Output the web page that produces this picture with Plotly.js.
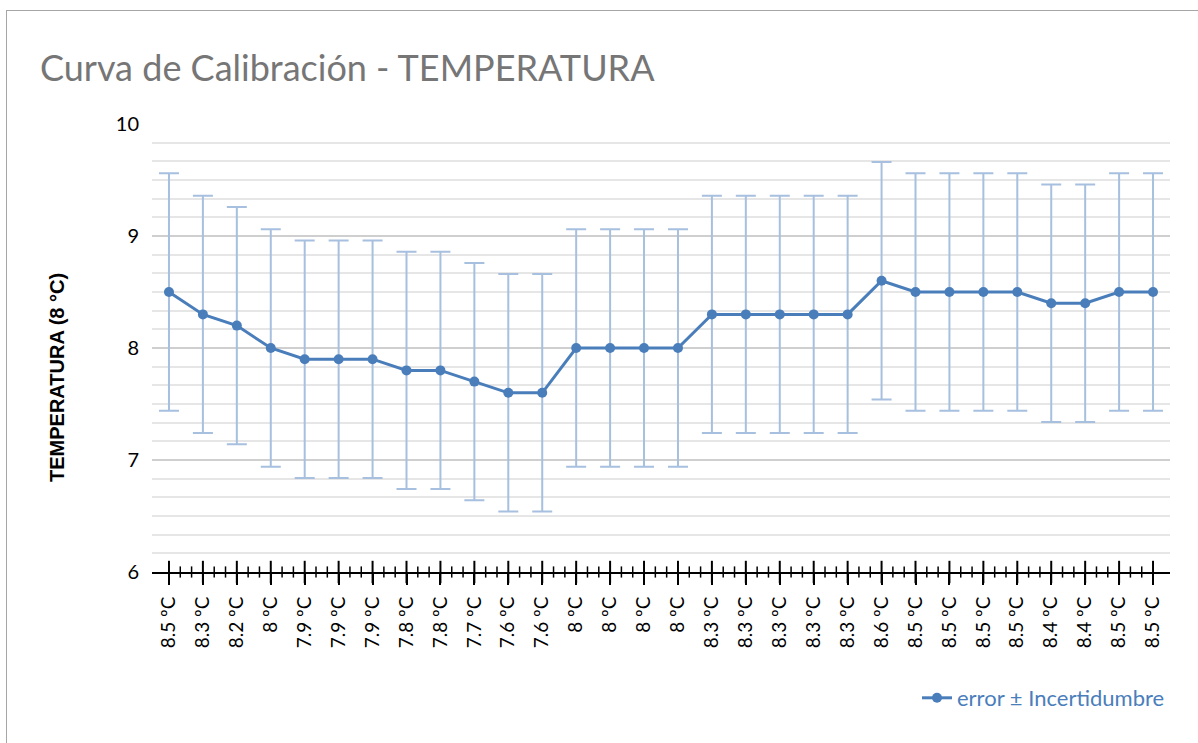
<!DOCTYPE html>
<html>
<head>
<meta charset="utf-8">
<script src="https://cdn.plot.ly/plotly-3.0.1.min.js"></script>
<style>
  html, body { margin: 0; padding: 0; background: #fff; }
  #wrap { position: relative; width: 1198px; height: 743px; overflow: hidden; }
  #chart { position: absolute; left: 0; top: 0; width: 1198px; height: 743px; }
  #frame { position: absolute; left: 6px; top: 10px; width: 1300px; height: 900px;
           border-left: 1.5px solid #a6a6a6; border-top: 1.5px solid #a6a6a6; pointer-events: none; }
</style>
</head>
<body>
<div id="wrap">
  <div id="chart"></div>
  <div id="frame"></div>
</div>
<script>
// ---- data ----
const tickLabels = ["8.5 ºC","8.3 ºC","8.2 ºC","8 ºC","7.9 ºC","7.9 ºC","7.9 ºC","7.8 ºC","7.8 ºC","7.7 ºC",
                    "7.6 ºC","7.6 ºC","8 ºC","8 ºC","8 ºC","8 ºC","8.3 ºC","8.3 ºC","8.3 ºC","8.3 ºC",
                    "8.3 ºC","8.6 ºC","8.5 ºC","8.5 ºC","8.5 ºC","8.5 ºC","8.4 ºC","8.4 ºC","8.5 ºC","8.5 ºC"];
const values = [8.5,8.3,8.2,8,7.9,7.9,7.9,7.8,7.8,7.7,
                7.6,7.6,8,8,8,8,8.3,8.3,8.3,8.3,
                8.3,8.6,8.5,8.5,8.5,8.5,8.4,8.4,8.5,8.5];
const uncertainty = [1.06,1.06,1.06,1.06,1.06,1.06,1.06,1.06,1.06,1.06,
                     1.06,1.06,1.06,1.06,1.06,1.06,1.06,1.06,1.06,1.06,
                     1.06,1.06,1.06,1.06,1.06,1.06,1.06,1.06,1.06,1.06];
const yRange = [6, 10];
const seriesName = "error ± Incertidumbre";
const chartTitle = "Curva de Calibración - TEMPERATURA";
const yTitle = "TEMPERATURA (8 °C)";

// ---- derived ----
const xIdx = values.map((v, i) => i);
const minorVals = [];
for (let i = 0; i < xIdx.length - 1; i++) { minorVals.push(i + 1/3, i + 2/3); }

const FONT = "Lato, 'Open Sans', sans-serif";
const BLUE = "#4a7ebb";

// tick marks crossing the category axis (drawn as line markers on the axis baseline)
const tickTrace = (xs, size, w) => ({
  x: xs, y: xs.map(() => yRange[0]), type: "scatter", mode: "markers", cliponaxis: false,
  showlegend: false, hoverinfo: "skip",
  marker: { symbol: "line-ns-open", size: size, color: "#000", line: { color: "#000", width: w } }
});

const trace = {
  x: xIdx, y: values, type: "scatter", mode: "lines+markers",
  name: seriesName, cliponaxis: false,
  line: { color: BLUE, width: 3 },
  marker: { color: BLUE, size: 10 },
  error_y: { type: "data", array: uncertainty, visible: true, color: "#a7c0df", thickness: 2, width: 10 }
};

const layout = {
  width: 1198, height: 743,
  margin: { l: 152, r: 28, t: 124, b: 171 },
  paper_bgcolor: "rgba(0,0,0,0)", plot_bgcolor: "#fff",
  font: { family: FONT, color: "#000" },
  title: { text: chartTitle, font: { family: FONT, size: 36, color: "#767676" },
           xref: "container", x: 40/1198, xanchor: "left", yref: "container", y: 1 - 68/743, yanchor: "middle" },
  xaxis: {
    type: "linear", range: [-0.5, 29.5], showgrid: false, zeroline: false,
    tickmode: "array", tickvals: xIdx, ticktext: tickLabels, tickangle: -90,
    ticks: "outside", ticklen: 11, tickwidth: 2, tickcolor: "#000", ticklabelstandoff: 4,
    tickfont: { family: FONT, size: 19, color: "#000" },
    showline: true, linecolor: "#000", linewidth: 2
  },
  yaxis: {
    range: yRange, dtick: 1, tick0: yRange[0], ticks: "", showline: false, zeroline: false,
    gridcolor: "#cfcfcf", gridwidth: 2, ticklabelstandoff: 12,
    tickfont: { family: FONT, size: 20, color: "#000" },
    minor: { dtick: 1/6, tick0: yRange[0], showgrid: true, gridcolor: "#e6e6e6", gridwidth: 2 }
  },
  showlegend: true,
  legend: { orientation: "h", x: 1, xanchor: "right", y: (572 - 698) / 448, yanchor: "middle",
            font: { family: FONT, size: 22, color: BLUE }, bgcolor: "rgba(0,0,0,0)" },
  annotations: [{
    text: "<b>" + yTitle + "</b>", textangle: -90, showarrow: false,
    xref: "paper", yref: "paper", x: (57 - 152) / 1018, y: (572 - 378) / 448,
    xanchor: "center", yanchor: "middle",
    font: { family: "'Liberation Sans', Arial, sans-serif", size: 20, color: "#000" }
  }]
};

Plotly.newPlot("chart", [tickTrace(minorVals, 8, 1.5), tickTrace(xIdx, 16, 2), trace], layout,
               { displayModeBar: false, staticPlot: true });
</script>
</body>
</html>
